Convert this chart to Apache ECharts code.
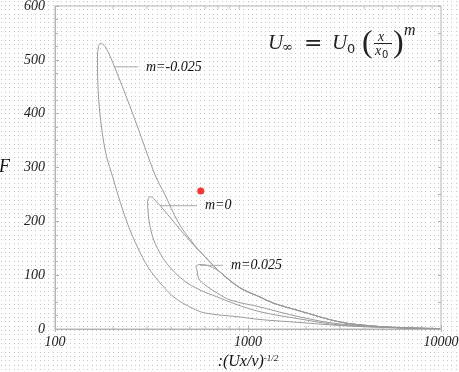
<!DOCTYPE html>
<html>
<head>
<meta charset="utf-8">
<script src="https://cdn.jsdelivr.net/npm/echarts@6/dist/echarts.min.js"></script>
<style>
html,body{margin:0;padding:0;background:#fff;}
#c{width:459px;height:372px;}
</style>
</head>
<body>
<div id="c"></div>
<script>
// ---- data (x: (Ux/nu)^-1/2, y: F) ----
const xTickValues = [100, 1000, 10000];
const xMinorTickValues = [200,300,400,500,600,700,800,900,2000,3000,4000,5000,6000,7000,8000,9000];
const yTickValues = [0, 100, 200, 300, 400, 500, 600];

const loopMinus025 = [
  [9881,0.9],[6664,1.9],[4442,5.6],[2997,13.0],[1860,33.4],[1348,48.3],[1154,59.4],[909,76.2],
  [716,105.9],[599,133.7],[513,161.6],[434,198.8],[372,248.9],[330,286.1],[260,388.2],[200,493.6],
  [182,524.4],[172,530.7],[168,524.4],[166,505.8],[168,431.5],[175,369.7],[185,320.1],[199,282.9],
  [212,248.9],[239,193.2],[269,150.5],[303,115.2],[358,81.7],[419,57.6],[513,39.0],[599,29.7],
  [909,22.3],[1154,17.6],[1860,12.1],[2997,6.5],[6133,1.9],[9881,0.6]
];
const loopZero = [
  [9881,0.9],[6664,1.9],[4442,5.6],[2997,13.0],[1860,33.4],[1348,48.3],[1154,59.4],[909,76.2],
  [716,105.9],[599,134.5],[564,143.6],[462,177.8],[379,214.9],[323,242.8],[311,245.8],[302,236.5],
  [304,214.9],[311,190.0],[330,159.2],[379,122.0],[462,91.0],[564,72.4],[688,60.0],[839,47.7],
  [1154,32.1],[1860,18.6],[2997,7.4],[6133,2.3],[9881,0.7]
];
const loopPlus025 = [
  [9881,0.9],[6664,1.9],[4442,5.6],[2997,13.0],[1860,33.4],[1348,48.3],[1154,59.4],[909,77.0],
  [760,98.0],[716,105.9],[636,116.5],[564,119.8],[538,116.1],[545,108.0],[557,92.9],[599,81.7],
  [691,66.9],[807,53.9],[1154,40.9],[1860,22.3],[2997,9.3],[6133,2.8],[9881,0.7]
];
const redPoint = [[569, 256.4]];

const annotationNames = ['m=-0.025', 'm=0', 'm=0.025'];
const annotationLeaders = [
  [[202,487],[269,487]],
  [[350,229],[544,229]],
  [[564,118.3],[742,118.3]]
];

// ---- dotted background ----
(function(){
  const t = document.createElement('canvas');
  t.width = 13; t.height = 13;
  const g = t.getContext('2d');
  g.fillStyle = '#fff'; g.fillRect(0,0,13,13);
  g.fillStyle = '#c6c6c6';
  [0,4,8].forEach(a=>[0,4,8].forEach(b=>g.fillRect(a+1,b+1,1,1)));
  document.body.style.backgroundImage = 'url(' + t.toDataURL() + ')';
})();

const serif = 'Liberation Serif';
const curveStyle = {color:'#9a9a9a', width:1};
const axisGrey = '#b4b4b4';
const labelFont = {fontFamily:serif, fontStyle:'italic', fontSize:14, color:'#222'};

const series = [];
[loopMinus025, loopZero, loopPlus025].forEach((d,i)=>{
  series.push({type:'line', data:d, smooth:0.35, showSymbol:false, symbol:'none',
    lineStyle:curveStyle, z:2, silent:true});
});
annotationLeaders.forEach((d,i)=>{
  series.push({type:'line', name:annotationNames[i], data:d, showSymbol:false, symbol:'none',
    lineStyle:{color:'#a8a8a8', width:1}, z:3,
    endLabel:{show:true, formatter:annotationNames[i], distance:8,
      fontFamily:serif, fontStyle:'italic', fontSize:14, color:'#111'}});
});
series.push({type:'scatter', data:redPoint, symbolSize:7, itemStyle:{color:'#ff0000'}, z:5});
// minor log ticks on bottom and top frame edges
series.push({type:'scatter', data:xMinorTickValues.map(v=>[v, yTickValues[0]]), symbol:'rect',
  symbolSize:[1,3], symbolOffset:[0,-1.5], itemStyle:{color:axisGrey}, silent:true, z:1});
series.push({type:'scatter', data:xMinorTickValues.map(v=>[v, yTickValues[yTickValues.length-1]]), symbol:'rect',
  symbolSize:[1,3], symbolOffset:[0,1.5], itemStyle:{color:axisGrey}, silent:true, z:1});

const chart = echarts.init(document.getElementById('c'), null, {renderer:'canvas'});
chart.setOption({
  animation:false,
  backgroundColor:'transparent',
  grid:{left:55, right:18, top:6, bottom:43, show:true, borderColor:axisGrey, borderWidth:1,
        backgroundColor:'transparent', containLabel:false, outerBoundsMode:'none'},
  xAxis:[{
    type:'log', logBase:10, min:xTickValues[0], max:xTickValues[xTickValues.length-1],
    splitNumber:2, position:'bottom',
    axisLine:{lineStyle:{color:axisGrey}},
    axisTick:{inside:true, length:4, lineStyle:{color:axisGrey}},
    splitLine:{show:false},
    axisLabel:Object.assign({margin:6, formatter:v=>String(v)}, labelFont),
    name:':(Ux/ν){sup|-1/2}', nameLocation:'middle', nameGap:14,
    nameTextStyle:{fontFamily:serif, fontStyle:'italic', fontSize:16, color:'#111',
      rich:{sup:{fontFamily:serif, fontStyle:'italic', fontSize:9, color:'#111', verticalAlign:'top', lineHeight:10, padding:[0,0,10,0]}}}
  },{
    type:'log', logBase:10, min:xTickValues[0], max:xTickValues[xTickValues.length-1],
    position:'top', axisLine:{show:false}, axisLabel:{show:false},
    axisTick:{inside:true, length:3, lineStyle:{color:axisGrey}}, splitLine:{show:false}
  }],
  yAxis:[{
    type:'value', min:yTickValues[0], max:yTickValues[yTickValues.length-1], interval:100,
    axisLine:{show:true, lineStyle:{color:axisGrey}},
    axisTick:{show:true, inside:true, length:4, lineStyle:{color:axisGrey}},
    minorTick:{show:true, splitNumber:4, length:3, lineStyle:{color:axisGrey}},
    splitLine:{show:false},
    axisLabel:Object.assign({margin:10}, labelFont),
    name:'F', nameLocation:'middle', nameRotate:0, nameGap:45,
    nameTextStyle:{fontFamily:serif, fontStyle:'italic', fontSize:18, color:'#111'}
  },{
    type:'value', min:0, max:600, interval:50, position:'right',
    axisLine:{show:false}, axisLabel:{show:false}, splitLine:{show:false},
    axisTick:{show:true, inside:true, length:3, lineStyle:{color:axisGrey}}
  }],
  graphic:[
    {type:'text', x:268, y:43, style:{text:'U', fontFamily:serif, fontStyle:'italic', fontSize:21, fill:'#222', verticalAlign:'middle'}},
    {type:'text', x:282, y:48, style:{text:'∞', fontFamily:'DejaVu Serif', fontSize:13, fill:'#222', verticalAlign:'middle'}},
    {type:'text', x:304, y:44, style:{text:'=', fontFamily:'DejaVu Serif', fontSize:22, fill:'#222', verticalAlign:'middle'}},
    {type:'text', x:332, y:43, style:{text:'U', fontFamily:serif, fontStyle:'italic', fontSize:21, fill:'#222', verticalAlign:'middle'}},
    {type:'text', x:347, y:50, style:{text:'0', fontFamily:'DejaVu Sans', fontSize:13, fill:'#222', verticalAlign:'middle'}},
    {type:'text', x:362, y:44, style:{text:'(', fontFamily:serif, fontSize:32, fill:'#222', verticalAlign:'middle'}},
    {type:'text', x:378, y:37, style:{text:'x', fontFamily:serif, fontStyle:'italic', fontSize:14, fill:'#222', verticalAlign:'middle'}},
    {type:'line', shape:{x1:374, y1:43.5, x2:392, y2:43.5}, style:{stroke:'#222', lineWidth:1}},
    {type:'text', x:375, y:51, style:{text:'x', fontFamily:serif, fontStyle:'italic', fontSize:14, fill:'#222', verticalAlign:'middle'}},
    {type:'text', x:382, y:55, style:{text:'0', fontFamily:'DejaVu Sans', fontSize:10, fill:'#222', verticalAlign:'middle'}},
    {type:'text', x:393, y:44, style:{text:')', fontFamily:serif, fontSize:32, fill:'#222', verticalAlign:'middle'}},
    {type:'text', x:404, y:31, style:{text:'m', fontFamily:serif, fontStyle:'italic', fontSize:16, fill:'#222', verticalAlign:'middle'}}
  ],
  series:series
});
</script>
</body>
</html>
